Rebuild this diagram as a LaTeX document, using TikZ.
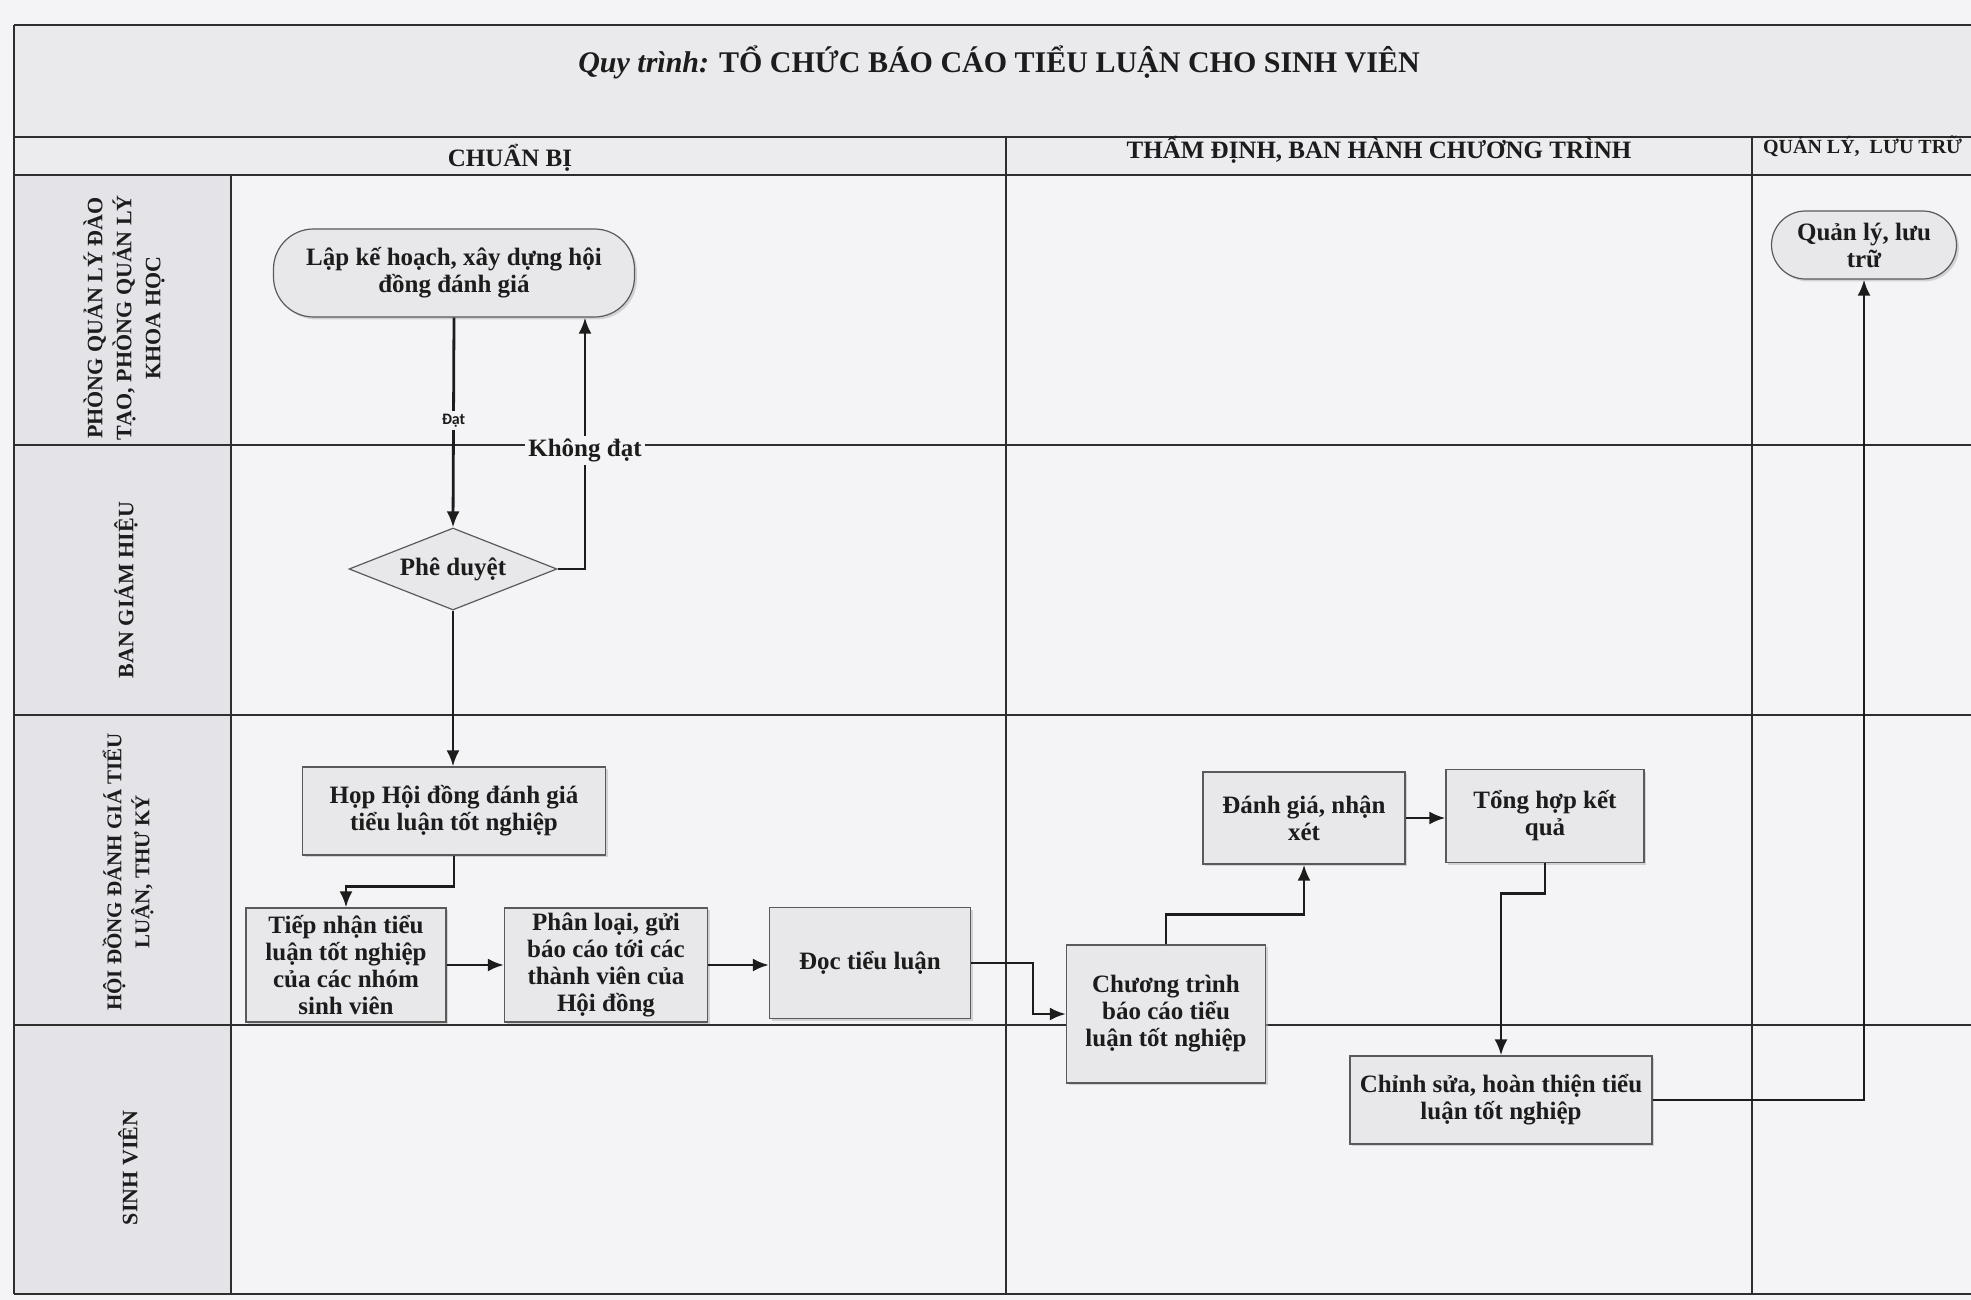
\documentclass[tikz,border=0pt]{standalone}
\usepackage{fontspec}
\setmainfont{Liberation Serif}
\newfontfamily\labelsans{Carlito}
\usetikzlibrary{shapes.geometric,arrows.meta,shadows,calc}
\definecolor{bg}{HTML}{F4F4F6}
\definecolor{titlebg}{HTML}{EAEAED}
\definecolor{headbg}{HTML}{ECECEF}
\definecolor{lanebg}{HTML}{E4E4E8}
\definecolor{boxfill}{HTML}{E8E8EB}
\definecolor{ink}{HTML}{1C1C1C}
\definecolor{gridc}{HTML}{2E2E2E}
\definecolor{boxline}{HTML}{5A5A5A}
\tikzset{
  grid/.style={draw=gridc, line width=1pt},
  boxtext/.style={font=\bfseries\fontsize{12.5}{13.5}\selectfont, text=ink, align=center},
  box/.style={boxtext, rectangle, draw=boxline, line width=0.6pt, fill=boxfill, inner sep=2pt,
    drop shadow={shadow xshift=1.2pt, shadow yshift=-1.2pt, fill=black!30}},
  term/.style={box, rounded corners=20pt},
  dec/.style={boxtext, diamond, aspect=2.5, draw=boxline, line width=0.6pt, fill=boxfill, inner sep=0pt,
    minimum width=104pt, minimum height=41pt},
  conn/.style={draw=ink, line width=1.4pt, -{Latex[length=8pt,width=6.5pt]}},
  lanelabel/.style={font=\bfseries\fontsize{11}{14.5}\selectfont, text=ink, align=center, rotate=90},
  headtext/.style={font=\bfseries\fontsize{12.5}{14}\selectfont, text=ink},
  smalllab/.style={fill=bg, inner sep=1.5pt, font=\labelsans\bfseries\fontsize{8}{9}\selectfont, text=ink},
  biglab/.style={fill=bg, inner sep=1.5pt, font=\bfseries\fontsize{12.5}{14}\selectfont, text=ink},
}
\begin{document}
\begin{tikzpicture}[x=0.5pt,y=-0.5pt]
\useasboundingbox (0,0) rectangle (1971,1300);
% backgrounds
\fill[bg] (0,0) rectangle (1971,1300);
\fill[titlebg] (14,25) rectangle (1971,137);
\fill[headbg] (14,137) rectangle (1971,175);
\fill[lanebg] (14,175) rectangle (231,1294);
% grid
\draw[grid] (14,25) -- (1971,25);
\draw[grid] (14,137) -- (1971,137);
\draw[grid] (14,175) -- (1971,175);
\draw[grid] (14,445) -- (1971,445);
\draw[grid] (14,715) -- (1971,715);
\draw[grid] (14,1025) -- (1971,1025);
\draw[grid] (14,1294) -- (1971,1294);
\draw[grid] (14,25) -- (14,1294);
\draw[grid] (231,175) -- (231,1294);
\draw[grid] (1006,137) -- (1006,1294);
\draw[grid] (1752,137) -- (1752,1294);
% title and headers
\node[text=ink, font=\bfseries\fontsize{15}{18}\selectfont] (title) at (999,62)
  {\textit{Quy trình:} TỔ CHỨC BÁO CÁO TIỂU LUẬN CHO SINH VIÊN};
\node[headtext] (h1) at (510,158) {CHUẨN BỊ};
\node[headtext] (h2) at (1379,150) {THẨM ĐỊNH, BAN HÀNH CHƯƠNG TRÌNH};
\node[headtext, font=\bfseries\fontsize{10}{12}\selectfont, anchor=west] (h3) at (1756,146) {QUẢN LÝ,\ \ LƯU TRỮ};
% lane labels
\node[lanelabel] (l1) at (124,318) {PHÒNG QUẢN LÝ ĐÀO\\TẠO, PHÒNG QUẢN LÝ\\KHOA HỌC};
\node[lanelabel] (l2) at (126,590) {BAN GIÁM HIỆU};
\node[lanelabel, font=\bfseries\fontsize{10.5}{14}\selectfont] (l3) at (128,872) {HỘI ĐỒNG ĐÁNH GIÁ TIỂU\\LUẬN, THƯ KÝ};
\node[lanelabel] (l4) at (128,1168) {SINH VIÊN};
% nodes
\node[term, minimum width=180.5pt, minimum height=44pt] (plan) at (454,273) {Lập kế hoạch, xây dựng hội\\đồng đánh giá};
\node[dec] (approve) at (453,569) {Phê duyệt};
\node[box, minimum width=151.5pt, minimum height=44pt] (meet) at (454,811) {Họp Hội đồng đánh giá\\tiểu luận tốt nghiệp};
\node[box, inner sep=1pt, minimum width=100pt, minimum height=57pt] (receive) at (346,965) {Tiếp nhận tiểu\\luận tốt nghiệp\\của các nhóm\\sinh viên};
\node[box, inner sep=1pt, minimum width=101.5pt, minimum height=57pt] (classify) at (606,965) {Phân loại, gửi\\báo cáo tới các\\thành viên của\\Hội đồng};
\node[box, minimum width=100.5pt, minimum height=55.5pt] (read) at (870,963) {Đọc tiểu luận};
\node[box, minimum width=99.5pt, minimum height=69pt] (program) at (1166,1014) {Chương trình\\báo cáo tiểu\\luận tốt nghiệp};
\node[box, minimum width=101pt, minimum height=46pt] (eval) at (1304,818) {Đánh giá, nhận\\xét};
\node[box, minimum width=99pt, minimum height=46.5pt] (sum) at (1545,816) {Tổng hợp kết\\quả};
\node[box, minimum width=151pt, minimum height=44pt] (revise) at (1501,1100) {Chỉnh sửa, hoàn thiện tiểu\\luận tốt nghiệp};
\node[term, rounded corners=17pt, minimum width=92.5pt, minimum height=34pt] (archive) at (1864,245) {Quản lý, lưu\\trữ};
% helper coordinates
\coordinate (kx) at (585,0);
\coordinate (rx) at (1033,0);
% connectors
\draw[conn] (plan.south) -- node[smalllab, pos=0.49] (lbdat) {Đạt} (approve.north);
\draw[conn] (approve.east) -| node[biglab, pos=0.735] (lbkhong) {Không đạt} (plan.south -| kx);
\draw[conn] (approve.south) -- (meet.north -| approve.south);
\draw[conn] (meet.south) -- ++(0,31) -| (receive.north);
\draw[conn] (receive.east) -- (classify.west);
\draw[conn] (classify.east) -- (classify.east -| read.west);
\draw[conn] (read.east) -- (read.east -| rx) |- (program.west);
\draw[conn] (program.north) -- ++(0,-30) -| (eval.south);
\draw[conn] (eval.east) -- (eval.east -| sum.west);
\draw[conn] (sum.south) -- ++(0,30) -| (revise.north);
\draw[conn] (revise.east) -| (archive.south);
\end{tikzpicture}
\end{document}
